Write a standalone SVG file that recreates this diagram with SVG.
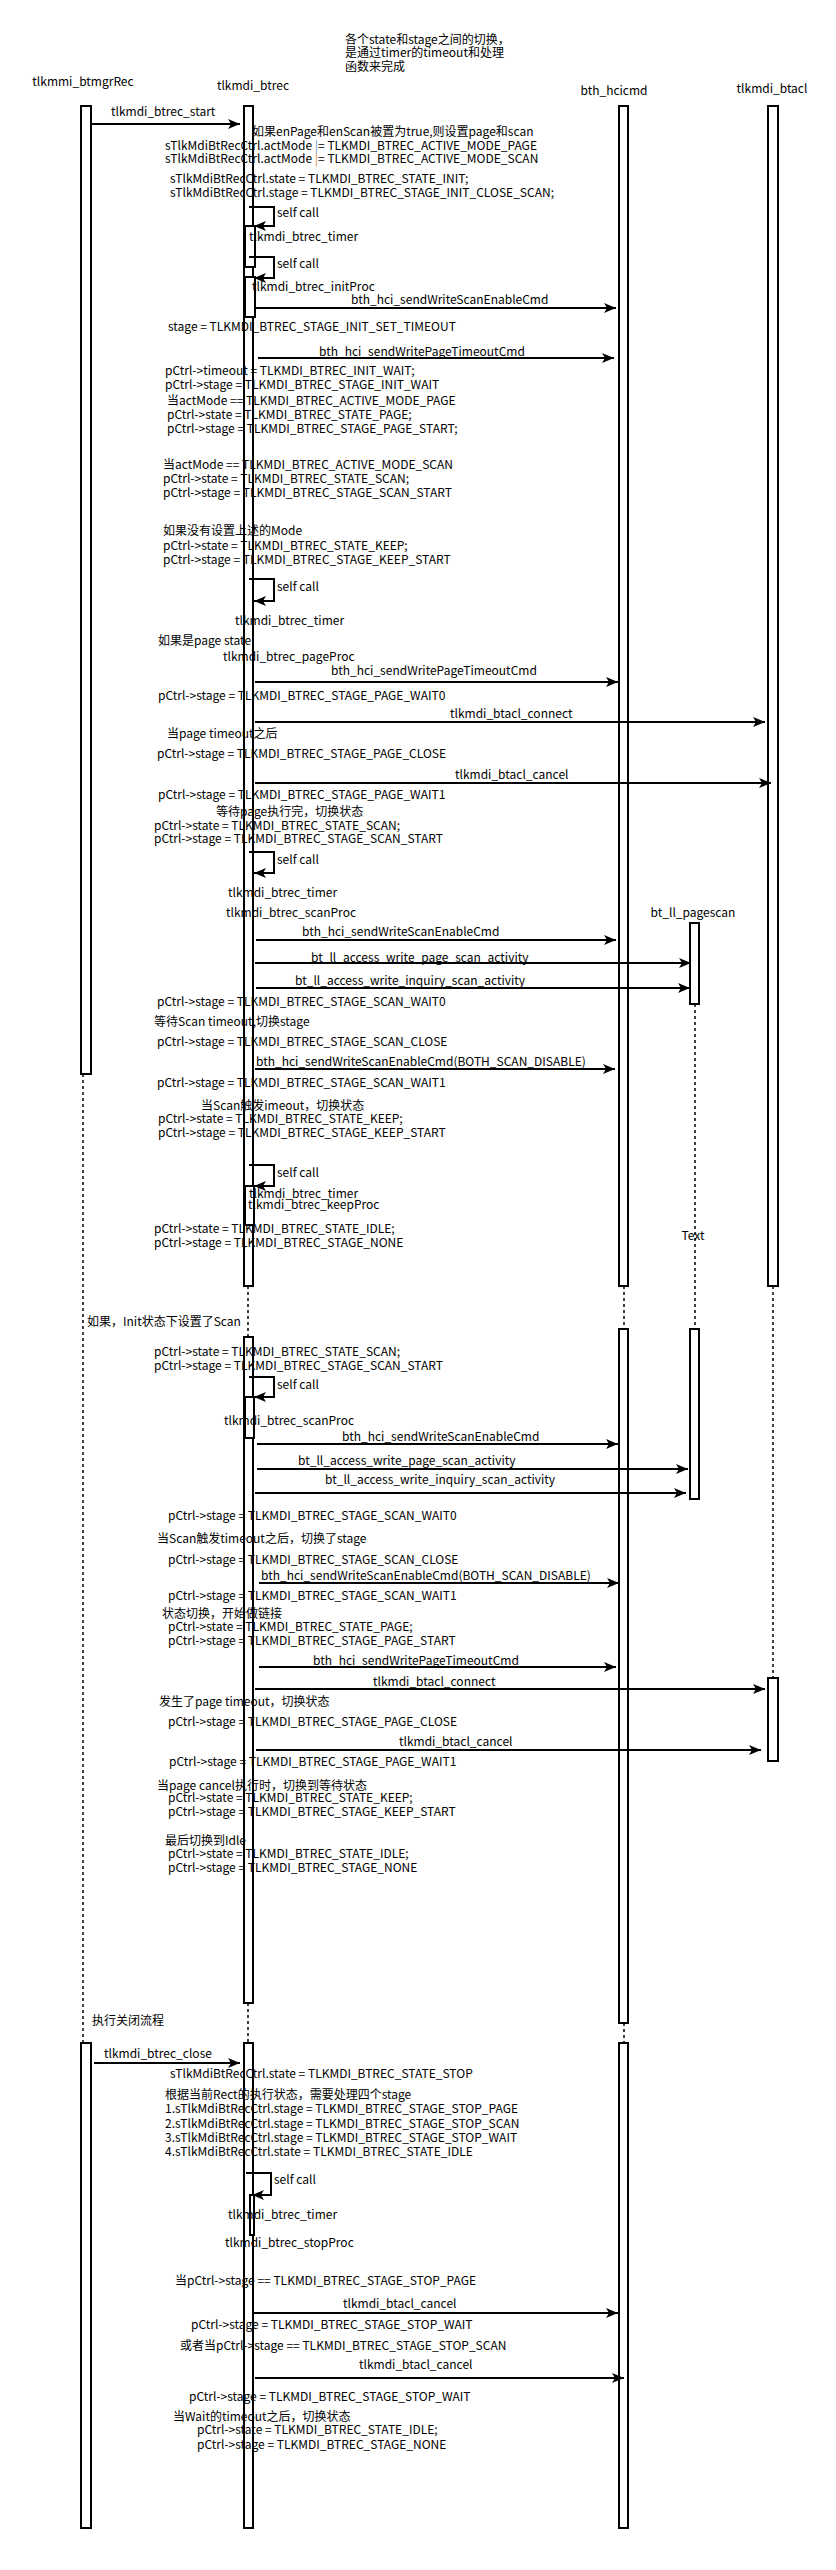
<svg xmlns="http://www.w3.org/2000/svg" width="836" height="2570" viewBox="0 0 836 2570">
<style>
text{font-family:"Noto Sans CJK SC","Noto Sans",sans-serif;font-size:12px;fill:#000}
.c{text-anchor:middle}
.bar{fill:#fff;stroke:#000;stroke-width:2}
.life{fill:none;stroke:#000;stroke-width:1.5;stroke-dasharray:3 3}
.msg{fill:none;stroke:#000;stroke-width:2;marker-end:url(#ah)}
.self{fill:none;stroke:#000;stroke-width:2;marker-end:url(#ah)}
</style>
<defs>
<marker id="ah" markerUnits="userSpaceOnUse" markerWidth="12" markerHeight="10" refX="12" refY="5" orient="auto">
<path d="M0,0 L12,5 L0,10 L3,5 z" fill="#000"/>
</marker>
</defs>
<rect width="836" height="2570" fill="#fff"/>

<g id="note-header">
<text x="345" y="44">各个state和stage之间的切换，</text>
<text x="345" y="57">是通过timer的timeout和处理</text>
<text x="345" y="71">函数来完成</text>
</g>

<g id="lifeline-btmgrRec">
<text class="c" x="83" y="86">tlkmmi_btmgrRec</text>
<line class="life" x1="83" y1="1074" x2="83" y2="2043"/>
<rect class="bar" x="81" y="106" width="10" height="968"/>
<rect class="bar" x="81" y="2043" width="10" height="485"/>
</g>

<g id="lifeline-btrec">
<text class="c" x="253" y="90">tlkmdi_btrec</text>
<line class="life" x1="248" y1="1286" x2="248" y2="1337"/>
<line class="life" x1="248" y1="2003" x2="248" y2="2043"/>
<rect class="bar" x="244" y="106" width="9" height="1180"/>
<rect class="bar" x="244" y="1337" width="9" height="666"/>
<rect class="bar" x="244" y="2043" width="9" height="485"/>
<rect class="bar" x="245" y="226" width="10" height="41"/>
<rect class="bar" x="245" y="277" width="10" height="40"/>
<rect class="bar" x="245" y="1186" width="9" height="39"/>
<rect class="bar" x="245" y="1397" width="9" height="41"/>
<rect class="bar" x="250" y="2195" width="4" height="40"/>
</g>

<g id="lifeline-hcicmd">
<text class="c" x="614" y="95">bth_hcicmd</text>
<line class="life" x1="624" y1="1286" x2="624" y2="1329"/>
<line class="life" x1="624" y1="2023" x2="624" y2="2043"/>
<rect class="bar" x="619" y="106" width="9" height="1180"/>
<rect class="bar" x="619" y="1329" width="9" height="694"/>
<rect class="bar" x="619" y="2043" width="9" height="485"/>
</g>

<g id="lifeline-btacl">
<text class="c" x="772" y="93">tlkmdi_btacl</text>
<line class="life" x1="773" y1="1286" x2="773" y2="1678"/>
<rect class="bar" x="768" y="106" width="10" height="1180"/>
<rect class="bar" x="768" y="1678" width="10" height="83"/>
</g>

<g id="lifeline-pagescan">
<text class="c" x="693" y="917">bt_ll_pagescan</text>
<line class="life" x1="695" y1="1004" x2="695" y2="1329"/>
<rect class="bar" x="690" y="923" width="9" height="81"/>
<rect class="bar" x="690" y="1329" width="9" height="170"/>
<text class="c" x="693" y="1240">Text</text>
</g>

<g id="connectors">
<line class="msg" x1="92" y1="124" x2="240" y2="124"/>
<text x="111" y="116">tlkmdi_btrec_start</text>
<line class="msg" x1="256" y1="308" x2="616" y2="308"/>
<text x="351" y="304">bth_hci_sendWriteScanEnableCmd</text>
<line class="msg" x1="258" y1="358" x2="614" y2="358"/>
<text x="319" y="356">bth_hci_sendWritePageTimeoutCmd</text>
<line class="msg" x1="255" y1="682" x2="618" y2="682"/>
<text x="331" y="675">bth_hci_sendWritePageTimeoutCmd</text>
<line class="msg" x1="255" y1="722" x2="765" y2="722"/>
<text x="450" y="718">tlkmdi_btacl_connect</text>
<line class="msg" x1="255" y1="783" x2="771" y2="783"/>
<text x="455" y="779">tlkmdi_btacl_cancel</text>
<line class="msg" x1="256" y1="940" x2="616" y2="940"/>
<text x="302" y="936">bth_hci_sendWriteScanEnableCmd</text>
<line class="msg" x1="255" y1="963" x2="691" y2="963"/>
<text x="311" y="962">bt_ll_access_write_page_scan_activity</text>
<line class="msg" x1="256" y1="988" x2="690" y2="988"/>
<text x="295" y="985">bt_ll_access_write_inquiry_scan_activity</text>
<line class="msg" x1="255" y1="1069" x2="615" y2="1069"/>
<text x="256" y="1066">bth_hci_sendWriteScanEnableCmd(BOTH_SCAN_DISABLE)</text>
<line class="msg" x1="257" y1="1444" x2="618" y2="1444"/>
<text x="342" y="1441">bth_hci_sendWriteScanEnableCmd</text>
<line class="msg" x1="257" y1="1469" x2="688" y2="1469"/>
<text x="298" y="1465">bt_ll_access_write_page_scan_activity</text>
<line class="msg" x1="255" y1="1493" x2="686" y2="1493"/>
<text x="325" y="1484">bt_ll_access_write_inquiry_scan_activity</text>
<line class="msg" x1="259" y1="1583" x2="619" y2="1583"/>
<text x="261" y="1580">bth_hci_sendWriteScanEnableCmd(BOTH_SCAN_DISABLE)</text>
<line class="msg" x1="259" y1="1667" x2="616" y2="1667"/>
<text x="313" y="1665">bth_hci_sendWritePageTimeoutCmd</text>
<line class="msg" x1="255" y1="1689" x2="765" y2="1689"/>
<text x="373" y="1686">tlkmdi_btacl_connect</text>
<line class="msg" x1="256" y1="1750" x2="761" y2="1750"/>
<text x="399" y="1746">tlkmdi_btacl_cancel</text>
<line class="msg" x1="94" y1="2063" x2="240" y2="2063"/>
<text x="104" y="2058">tlkmdi_btrec_close</text>
<line class="msg" x1="254" y1="2313" x2="618" y2="2313"/>
<text x="343" y="2308">tlkmdi_btacl_cancel</text>
<line class="msg" x1="255" y1="2378" x2="624" y2="2378"/>
<text x="359" y="2369">tlkmdi_btacl_cancel</text>

<path class="self" d="M249,207 H274 V226 H254"/>
<text x="277" y="217">self call</text>
<path class="self" d="M249,257 H274 V278 H254"/>
<text x="277" y="268">self call</text>
<path class="self" d="M249,579 H274 V601 H254"/>
<text x="277" y="591">self call</text>
<path class="self" d="M249,852 H274 V873 H254"/>
<text x="277" y="864">self call</text>
<path class="self" d="M249,1165 H274 V1186 H254"/>
<text x="277" y="1177">self call</text>
<path class="self" d="M249,1377 H274 V1397 H254"/>
<text x="277" y="1389">self call</text>
<path class="self" d="M246,2173 H271 V2195 H252"/>
<text x="274" y="2184">self call</text>
</g>

<g id="notes">
<text x="252" y="136">如果enPage和enScan被置为true,则设置page和scan</text>
<text x="165" y="150">sTlkMdiBtRecCtrl.actMode <tspan fill="#5b9bd5">|</tspan>= TLKMDI_BTREC_ACTIVE_MODE_PAGE</text>
<text x="165" y="163">sTlkMdiBtRecCtrl.actMode <tspan fill="#e0883a">|</tspan>= TLKMDI_BTREC_ACTIVE_MODE_SCAN</text>
<text x="170" y="183">sTlkMdiBtRecCtrl.state = TLKMDI_BTREC_STATE_INIT;</text>
<text x="170" y="197">sTlkMdiBtRecCtrl.stage = TLKMDI_BTREC_STAGE_INIT_CLOSE_SCAN;</text>
<text x="249" y="241">tlkmdi_btrec_timer</text>
<text x="252" y="291">tlkmdi_btrec_initProc</text>
<text x="168" y="331">stage = TLKMDI_BTREC_STAGE_INIT_SET_TIMEOUT</text>
<text x="165" y="375">pCtrl-&gt;timeout = TLKMDI_BTREC_INIT_WAIT;</text>
<text x="165" y="389">pCtrl-&gt;stage = TLKMDI_BTREC_STAGE_INIT_WAIT</text>
<text x="167" y="405">当actMode == TLKMDI_BTREC_ACTIVE_MODE_PAGE</text>
<text x="167" y="419">pCtrl-&gt;state = TLKMDI_BTREC_STATE_PAGE;</text>
<text x="167" y="433">pCtrl-&gt;stage = TLKMDI_BTREC_STAGE_PAGE_START;</text>
<text x="163" y="469">当actMode == TLKMDI_BTREC_ACTIVE_MODE_SCAN</text>
<text x="163" y="483">pCtrl-&gt;state = TLKMDI_BTREC_STATE_SCAN;</text>
<text x="163" y="497">pCtrl-&gt;stage = TLKMDI_BTREC_STAGE_SCAN_START</text>
<text x="163" y="535">如果没有设置上述的Mode</text>
<text x="163" y="550">pCtrl-&gt;state = TLKMDI_BTREC_STATE_KEEP;</text>
<text x="163" y="564">pCtrl-&gt;stage = TLKMDI_BTREC_STAGE_KEEP_START</text>
<text x="235" y="625">tlkmdi_btrec_timer</text>
<text x="158" y="645">如果是page state</text>
<text x="223" y="661">tlkmdi_btrec_pageProc</text>
<text x="158" y="700">pCtrl-&gt;stage = TLKMDI_BTREC_STAGE_PAGE_WAIT0</text>
<text x="167" y="738">当page timeout之后</text>
<text x="157" y="758">pCtrl-&gt;stage = TLKMDI_BTREC_STAGE_PAGE_CLOSE</text>
<text x="158" y="799">pCtrl-&gt;stage = TLKMDI_BTREC_STAGE_PAGE_WAIT1</text>
<text x="216" y="816">等待page执行完，切换状态</text>
<text x="154" y="830">pCtrl-&gt;state = TLKMDI_BTREC_STATE_SCAN;</text>
<text x="154" y="843">pCtrl-&gt;stage = TLKMDI_BTREC_STAGE_SCAN_START</text>
<text x="228" y="897">tlkmdi_btrec_timer</text>
<text x="226" y="917">tlkmdi_btrec_scanProc</text>
<text x="157" y="1006">pCtrl-&gt;stage = TLKMDI_BTREC_STAGE_SCAN_WAIT0</text>
<text x="154" y="1026">等待Scan timeout,切换stage</text>
<text x="157" y="1046">pCtrl-&gt;stage = TLKMDI_BTREC_STAGE_SCAN_CLOSE</text>
<text x="157" y="1087">pCtrl-&gt;stage = TLKMDI_BTREC_STAGE_SCAN_WAIT1</text>
<text x="201" y="1110">当Scan触发imeout，切换状态</text>
<text x="158" y="1123">pCtrl-&gt;state = TLKMDI_BTREC_STATE_KEEP;</text>
<text x="158" y="1137">pCtrl-&gt;stage = TLKMDI_BTREC_STAGE_KEEP_START</text>
<text x="249" y="1198">tlkmdi_btrec_timer</text>
<text x="248" y="1209">tlkmdi_btrec_keepProc</text>
<text x="154" y="1233">pCtrl-&gt;state = TLKMDI_BTREC_STATE_IDLE;</text>
<text x="154" y="1247">pCtrl-&gt;stage = TLKMDI_BTREC_STAGE_NONE</text>
<text x="87" y="1326">如果，Init状态下设置了Scan</text>
<text x="154" y="1356">pCtrl-&gt;state = TLKMDI_BTREC_STATE_SCAN;</text>
<text x="154" y="1370">pCtrl-&gt;stage = TLKMDI_BTREC_STAGE_SCAN_START</text>
<text x="224" y="1425">tlkmdi_btrec_scanProc</text>
<text x="168" y="1520">pCtrl-&gt;stage = TLKMDI_BTREC_STAGE_SCAN_WAIT0</text>
<text x="157" y="1543">当Scan触发timeout之后，切换了stage</text>
<text x="168" y="1564">pCtrl-&gt;stage = TLKMDI_BTREC_STAGE_SCAN_CLOSE</text>
<text x="168" y="1600">pCtrl-&gt;stage = TLKMDI_BTREC_STAGE_SCAN_WAIT1</text>
<text x="162" y="1618">状态切换，开始做链接</text>
<text x="168" y="1631">pCtrl-&gt;state = TLKMDI_BTREC_STATE_PAGE;</text>
<text x="168" y="1645">pCtrl-&gt;stage = TLKMDI_BTREC_STAGE_PAGE_START</text>
<text x="159" y="1706">发生了page timeout，切换状态</text>
<text x="168" y="1726">pCtrl-&gt;stage = TLKMDI_BTREC_STAGE_PAGE_CLOSE</text>
<text x="169" y="1766">pCtrl-&gt;stage = TLKMDI_BTREC_STAGE_PAGE_WAIT1</text>
<text x="157" y="1790">当page cancel执行时，切换到等待状态</text>
<text x="168" y="1802">pCtrl-&gt;state = TLKMDI_BTREC_STATE_KEEP;</text>
<text x="168" y="1816">pCtrl-&gt;stage = TLKMDI_BTREC_STAGE_KEEP_START</text>
<text x="165" y="1845">最后切换到Idle</text>
<text x="168" y="1858">pCtrl-&gt;state = TLKMDI_BTREC_STATE_IDLE;</text>
<text x="168" y="1872">pCtrl-&gt;stage = TLKMDI_BTREC_STAGE_NONE</text>
<text x="92" y="2025">执行关闭流程</text>
<text x="170" y="2078">sTlkMdiBtRecCtrl.state = TLKMDI_BTREC_STATE_STOP</text>
<text x="165" y="2099">根据当前Rect的执行状态，需要处理四个stage</text>
<text x="165" y="2113">1.sTlkMdiBtRecCtrl.stage = TLKMDI_BTREC_STAGE_STOP_PAGE</text>
<text x="165" y="2128">2.sTlkMdiBtRecCtrl.stage = TLKMDI_BTREC_STAGE_STOP_SCAN</text>
<text x="165" y="2142">3.sTlkMdiBtRecCtrl.stage = TLKMDI_BTREC_STAGE_STOP_WAIT</text>
<text x="165" y="2156">4.sTlkMdiBtRecCtrl.state = TLKMDI_BTREC_STATE_IDLE</text>
<text x="228" y="2219">tlkmdi_btrec_timer</text>
<text x="225" y="2247">tlkmdi_btrec_stopProc</text>
<text x="175" y="2285">当pCtrl-&gt;stage == TLKMDI_BTREC_STAGE_STOP_PAGE</text>
<text x="191" y="2329">pCtrl-&gt;stage = TLKMDI_BTREC_STAGE_STOP_WAIT</text>
<text x="180" y="2350">或者当pCtrl-&gt;stage == TLKMDI_BTREC_STAGE_STOP_SCAN</text>
<text x="189" y="2401">pCtrl-&gt;stage = TLKMDI_BTREC_STAGE_STOP_WAIT</text>
<text x="173" y="2421">当Wait的timeout之后，切换状态</text>
<text x="197" y="2434">pCtrl-&gt;state = TLKMDI_BTREC_STATE_IDLE;</text>
<text x="197" y="2449">pCtrl-&gt;stage = TLKMDI_BTREC_STAGE_NONE</text>
</g>
</svg>
